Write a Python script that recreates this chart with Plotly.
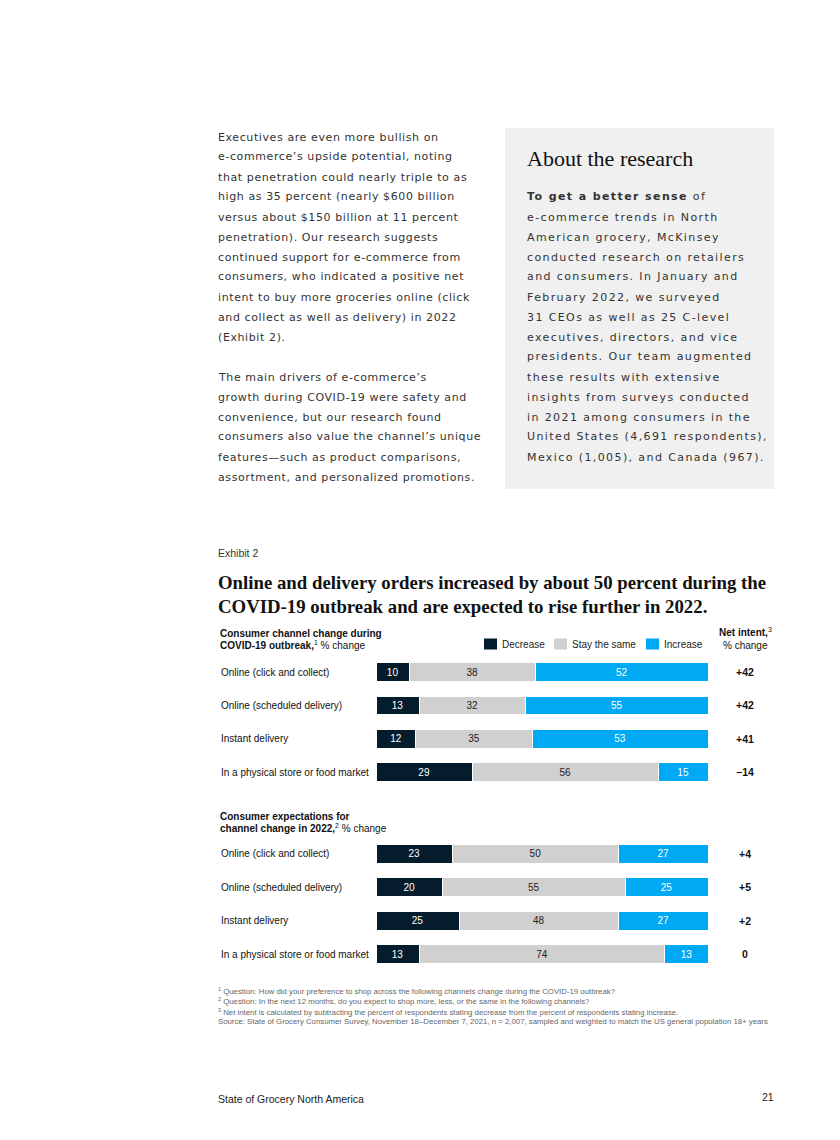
import plotly.graph_objects as go

# ---------------- data ----------------
categories = ["Online (click and collect)", "Online (scheduled delivery)",
              "Instant delivery", "In a physical store or food market"]
covid_decrease = [10, 13, 12, 29]
covid_same = [38, 32, 35, 56]
covid_increase = [52, 55, 53, 15]
exp_decrease = [23, 20, 25, 13]
exp_same = [50, 55, 48, 74]
exp_increase = [27, 25, 27, 13]
series_names = ["Decrease", "Stay the same", "Increase"]

left_text = [
    "Executives are even more bullish on",
    "e-commerce’s upside potential, noting",
    "that penetration could nearly triple to as",
    "high as 35 percent (nearly $600 billion",
    "versus about $150 billion at 11 percent",
    "penetration). Our research suggests",
    "continued support for e-commerce from",
    "consumers, who indicated a positive net",
    "intent to buy more groceries online (click",
    "and collect as well as delivery) in 2022",
    "(Exhibit 2).",
    "",
    "The main drivers of e-commerce’s",
    "growth during COVID-19 were safety and",
    "convenience, but our research found",
    "consumers also value the channel’s unique",
    "features—such as product comparisons,",
    "assortment, and personalized promotions.",
]
right_text = [
    "<b>To get a better sense</b> of",
    "e-commerce trends in North",
    "American grocery, McKinsey",
    "conducted research on retailers",
    "and consumers. In January and",
    "February 2022, we surveyed",
    "31 CEOs as well as 25 C-level",
    "executives, directors, and vice",
    "presidents. Our team augmented",
    "these results with extensive",
    "insights from surveys conducted",
    "in 2021 among consumers in the",
    "United States (4,691 respondents),",
    "Mexico (1,005), and Canada (967).",
]
footnotes = [
    "<sup>1</sup> Question: How did your preference to shop across the following channels change during the COVID-19 outbreak?",
    "<sup>2</sup> Question: In the next 12 months, do you expect to shop more, less, or the same in the following channels?",
    "<sup>3</sup> Net intent is calculated by subtracting the percent of respondents stating decrease from the percent of respondents stating increase.",
    "Source: State of Grocery Consumer Survey, November 18–December 7, 2021, n = 2,007, sampled and weighted to match the US general population 18+ years",
]

# ---------------- style ----------------
W, H = 840, 1140
OFF = 8  # page body margin of the browser
C_DEC, C_SAME, C_INC = "#051c2c", "#d0d0d0", "#00a9f4"
NARROW = "Liberation Sans, Arial, sans-serif"
BODY = "DejaVu Sans, sans-serif"
SERIF = "Liberation Serif, DejaVu Serif, serif"
FS = 10  # chart font size


def px(x):
    return (x - OFF) / W


def py(y):
    return 1 - (y - OFF) / H


def spaced(s, ls):
    return f'<span style="letter-spacing:{ls}px">{s}</span>'


fig = go.Figure()

sets = [
    ("x", "y", [covid_decrease, covid_same, covid_increase]),
    ("x2", "y2", [exp_decrease, exp_same, exp_increase]),
]
colors = [C_DEC, C_SAME, C_INC]
txtcol = ["white", "#222222", "white"]
for xa, ya, vals in sets:
    for name, v, c, tc in zip(series_names, vals, colors, txtcol):
        fig.add_trace(go.Bar(
            y=categories, x=v, name=name, orientation="h",
            marker=dict(color=c, line=dict(color="white", width=1)),
            text=v, textposition="inside", insidetextanchor="middle",
            textangle=0, constraintext="none",
            insidetextfont=dict(family=NARROW, size=FS, color=tc),
            width=0.56, xaxis=xa, yaxis=ya, showlegend=False,
            hoverinfo="skip",
        ))

x_dom = [px(376), px(708)]
fig.update_layout(
    width=W, height=H, margin=dict(l=0, r=0, t=0, b=0),
    paper_bgcolor="white", plot_bgcolor="white",
    barmode="stack",
    font=dict(family=NARROW, size=FS, color="#222222"),
    xaxis=dict(domain=x_dom, range=[0, 100], visible=False, fixedrange=True),
    xaxis2=dict(domain=x_dom, range=[0, 100], visible=False, anchor="y2", fixedrange=True),
    yaxis=dict(domain=[py(788.8), py(655.5)], visible=False, autorange="reversed",
               categoryorder="array", categoryarray=categories, anchor="x"),
    yaxis2=dict(domain=[py(970.7), py(837.3)], visible=False, autorange="reversed",
                categoryorder="array", categoryarray=categories, anchor="x2"),
    showlegend=False,
)

ann = []
shapes = []
PAD = 2  # annotation inner padding


def txt(x, y, s, size, family=BODY, color="#333333", anchor="left", yanchor="middle"):
    xx = x - PAD if anchor == "left" else (x + PAD if anchor == "right" else x)
    ann.append(dict(x=px(xx), y=py(y), xref="paper", yref="paper", text=s, showarrow=False,
                    xanchor=anchor, yanchor=yanchor,
                    font=dict(family=family, size=size, color=color)))


# grey box
shapes.append(dict(type="rect", xref="paper", yref="paper", x0=px(505), x1=px(774),
                   y0=py(489), y1=py(128), fillcolor="#f0f0f0", line=dict(width=0),
                   layer="below"))

for i, line in enumerate(left_text):
    if line:
        txt(218, 137 + 20 * i, spaced(line, 0.6), 11)
txt(527, 159, "About the research", 22, family=SERIF, color="#111111")
for i, line in enumerate(right_text):
    txt(527, 197 + 20 * i, spaced(line, 1.4), 11)

txt(218, 553, "Exhibit 2", 10.5, family="Liberation Sans, sans-serif", color="#333333")
txt(218, 582, "<b>Online and delivery orders increased by about 50 percent during the</b>", 18.8,
    family=SERIF, color="#111111")
txt(218, 606, "<b>COVID-19 outbreak and are expected to rise further in 2022.</b>", 18.8,
    family=SERIF, color="#111111")

txt(220, 633, "<b>Consumer channel change during</b>", FS, family=NARROW, color="#111111")
txt(220, 645, "<b>COVID-19 outbreak,</b><sup>1</sup> % change", FS, family=NARROW, color="#111111")
txt(220, 816, "<b>Consumer expectations for</b>", FS, family=NARROW, color="#111111")
txt(220, 828, "<b>channel change in 2022,</b><sup>2</sup> % change", FS, family=NARROW, color="#111111")
txt(745, 632, "<b>Net intent,</b><sup>3</sup>", FS, family=NARROW, color="#111111", anchor="center")
txt(745, 645, "% change", FS, family=NARROW, color="#111111", anchor="center")

# manual legend
legend_x = [484, 554, 646]
for name, c, lx in zip(series_names, colors, legend_x):
    shapes.append(dict(type="rect", xref="paper", yref="paper", x0=px(lx), x1=px(lx + 13),
                       y0=py(649.5), y1=py(638.5), fillcolor=c, line=dict(width=0)))
    txt(lx + 18, 644, name, FS, family=NARROW, color="#222222")

# row labels and net intent values
for ya, dec, inc in [("y", covid_decrease, covid_increase), ("y2", exp_decrease, exp_increase)]:
    for cat, d, i in zip(categories, dec, inc):
        ann.append(dict(x=px(221 - PAD), y=cat, xref="paper", yref=ya, text=cat, showarrow=False,
                        xanchor="left", yanchor="middle",
                        font=dict(family=NARROW, size=FS, color="#111111")))
        n = i - d
        s = f"+{n}" if n > 0 else (f"−{abs(n)}" if n < 0 else "0")
        ann.append(dict(x=px(745), y=cat, xref="paper", yref=ya, text=f"<b>{s}</b>",
                        showarrow=False, xanchor="center", yanchor="middle",
                        font=dict(family=NARROW, size=10.5, color="#111111")))

for i, line in enumerate(footnotes):
    txt(218, 991 + 10.3 * i, line, 7.8, family="Liberation Sans, sans-serif", color="#666666")

txt(218, 1099, "State of Grocery North America", 10.5, family="Liberation Sans, sans-serif",
    color="#222222")
txt(774, 1097, "21", 10.5, family="Liberation Sans, sans-serif", color="#222222", anchor="right")

fig.update_layout(annotations=ann, shapes=shapes)
fig.write_html("out.html")
